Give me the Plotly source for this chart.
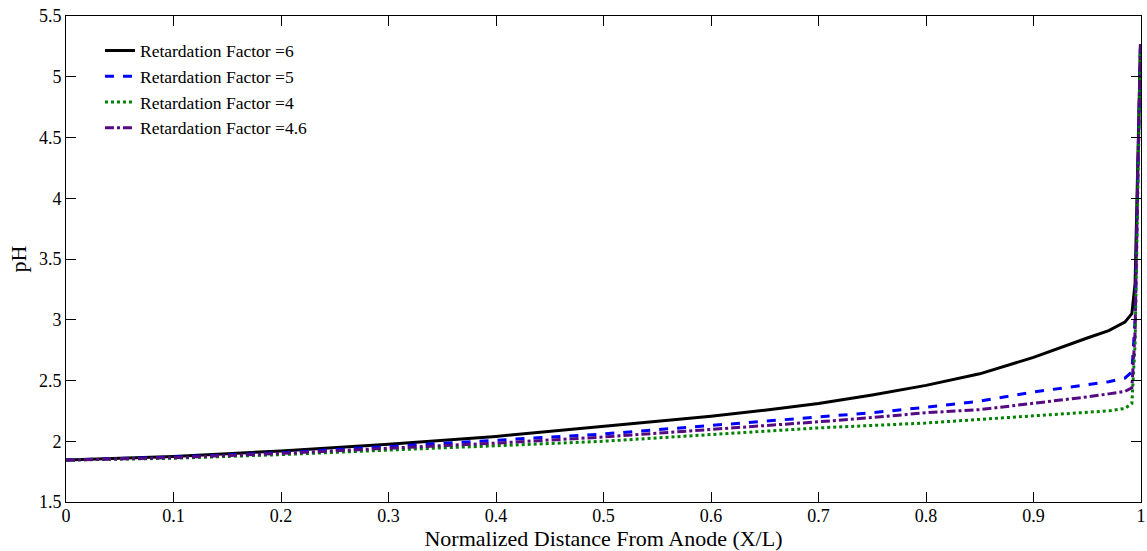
import plotly.graph_objects as go

x = [0, 0.1, 0.2, 0.3, 0.4, 0.5, 0.6, 0.65, 0.7, 0.75, 0.8, 0.85, 0.9, 0.95, 0.97, 0.985, 0.9915, 0.9945, 0.997, 0.9985, 0.9995]

ph_rf6 = [1.845, 1.875, 1.92, 1.975, 2.04, 2.12, 2.205, 2.255, 2.31, 2.38, 2.46, 2.555, 2.69, 2.85, 2.91, 2.98, 3.05, 3.3, 4.2, 4.9, 5.27]
ph_rf5 = [1.845, 1.87, 1.905, 1.955, 2.005, 2.06, 2.13, 2.165, 2.20, 2.235, 2.28, 2.33, 2.405, 2.465, 2.49, 2.52, 2.57, 3.0, 4.2, 4.9, 5.27]
ph_rf4 = [1.845, 1.86, 1.89, 1.925, 1.96, 2.00, 2.055, 2.085, 2.11, 2.13, 2.15, 2.18, 2.21, 2.24, 2.25, 2.27, 2.31, 2.8, 4.2, 4.9, 5.27]
ph_rf46 = [1.845, 1.865, 1.90, 1.94, 1.985, 2.035, 2.095, 2.13, 2.16, 2.195, 2.235, 2.26, 2.31, 2.365, 2.39, 2.41, 2.44, 2.9, 4.2, 4.9, 5.27]

names = ["Retardation Factor =6", "Retardation Factor =5", "Retardation Factor =4", "Retardation Factor =4.6"]
series = [ph_rf6, ph_rf5, ph_rf4, ph_rf46]
colors = ["#000000", "#0000ff", "#008000", "#550a82"]
dashes = ["solid", "dash", "dot", "dashdot"]

xticks = [0, 0.1, 0.2, 0.3, 0.4, 0.5, 0.6, 0.7, 0.8, 0.9, 1]
xlabels = ["0", "0.1", "0.2", "0.3", "0.4", "0.5", "0.6", "0.7", "0.8", "0.9", "1"]
yticks = [1.5, 2, 2.5, 3, 3.5, 4, 4.5, 5, 5.5]
ylabels = ["1.5", "2", "2.5", "3", "3.5", "4", "4.5", "5", "5.5"]

fig = go.Figure()
for n, s, c, d in zip(names, series, colors, dashes):
    fig.add_trace(go.Scatter(x=x, y=s, mode="lines", name=n,
                             line=dict(color=c, width=3, dash=d)))

font_family = "Liberation Serif, Times New Roman, serif"
fig.update_layout(
    width=1147, height=551,
    margin=dict(l=66, r=6, t=16, b=49),
    paper_bgcolor="white", plot_bgcolor="white",
    font=dict(family=font_family, size=18, color="black"),
    showlegend=True,
    legend=dict(x=0.0316, y=0.966, xanchor="left", yanchor="top",
                bgcolor="rgba(0,0,0,0)", font=dict(size=17.5),
                tracegroupgap=0, itemwidth=30),
    xaxis=dict(range=[0, 1], tickvals=xticks, ticktext=xlabels,
               ticks="inside", ticklen=10, tickcolor="black",
               showline=True, linecolor="black", linewidth=1, mirror="ticks",
               showgrid=False, zeroline=False, automargin=False,
               ticklabelstandoff=-3,
               title=dict(text="Normalized Distance From Anode (X/L)", standoff=7)),
    yaxis=dict(range=[1.5, 5.5], tickvals=yticks, ticktext=ylabels,
               ticks="inside", ticklen=10, tickcolor="black",
               showline=True, linecolor="black", linewidth=1, mirror="ticks",
               showgrid=False, zeroline=False, automargin=False,
               title=dict(text="pH", standoff=6)),
)

fig.write_html("out.html")
